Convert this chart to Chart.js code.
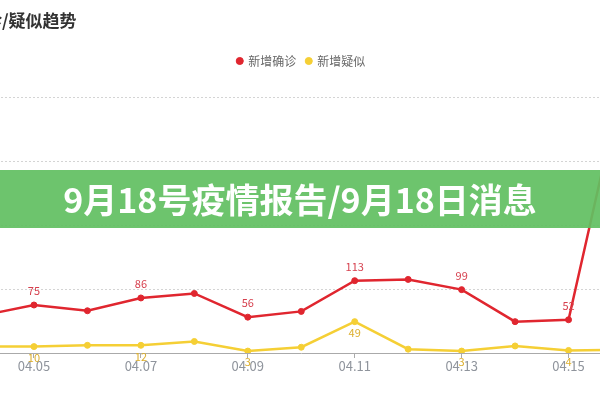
<!DOCTYPE html>
<html>
<head>
<meta charset="utf-8">
<script src="https://cdn.jsdelivr.net/npm/chart.js@4"></script>
<style>
	body { margin: 0; width: 600px; height: 400px; overflow: hidden; position: relative; background: #fff; }
	#wrap { position: absolute; left: -80px; top: 0; width: 712px; height: 400px; }
	#banner {
		position: absolute; left: 0; top: 170px; width: 600px; height: 58px;
		background: rgba(98, 192, 98, 0.93);
		color: #fff; font: bold 34px "Noto Sans CJK SC", sans-serif;
		text-align: center; line-height: 58px;
	}
</style>
</head>
<body>
<div id="wrap"><canvas id="lineChart"></canvas></div>
<div id="banner">9月18号疫情报告/9月18日消息</div>
<script>
const dates = ['04.04', '04.05', '04.06', '04.07', '04.08', '04.09', '04.10', '04.11', '04.12', '04.13', '04.14', '04.15', '04.16'];
const confirmed = [58, 75, 66, 86, 93, 56, 65, 113, 115, 99, 49, 52, 422];
const suspected = [10, 10, 12, 12, 18, 3, 9, 49, 6, 3, 11, 4, 5];
const yTicks = [0, 100, 200, 300, 400];

const font = '"Noto Sans CJK SC", "Noto Sans", sans-serif';
const red = '#e0262f';
const yellow = '#f5cf35';

// value labels on every other point, red above and yellow below
const valueLabels = {
	id: 'valueLabels',
	afterDatasetsDraw(chart) {
		const { ctx } = chart;
		ctx.save();
		ctx.font = '11px ' + font;
		ctx.textAlign = 'center';
		ctx.textBaseline = 'middle';
		chart.data.datasets.forEach((ds, d) => {
			const meta = chart.getDatasetMeta(d);
			meta.data.forEach((pt, i) => {
				if (i % 2 !== 1) return;
				ctx.fillStyle = d === 0 ? '#d6404e' : '#dcae2c';
				ctx.fillText(ds.data[i], pt.x, d === 0 ? pt.y - 14 : pt.y + 11);
			});
		});
		ctx.restore();
	},
};

// extra room between legend and plot
const legendGap = {
	id: 'legendGap',
	afterInit(chart) {
		const fit = chart.legend.fit;
		chart.legend.fit = function () {
			fit.call(this);
			this.height += 20;
		};
	},
};

const myChart = new Chart(document.querySelector('#lineChart'), {
	type: 'line',
	data: {
		labels: dates,
		datasets: [
			{
				label: '新增确诊',
				data: confirmed,
				borderColor: red,
				backgroundColor: red,
				borderWidth: 2.5,
				pointRadius: 3,
				pointBorderWidth: 1,
				tension: 0,
			},
			{
				label: '新增疑似',
				data: suspected,
				borderColor: yellow,
				backgroundColor: yellow,
				borderWidth: 2.5,
				pointRadius: 3,
				pointBorderWidth: 1,
				tension: 0,
			},
		],
	},
	options: {
		responsive: true,
		maintainAspectRatio: false,
		animation: false,
		layout: { padding: { left: 14, right: 10, top: 0, bottom: 26.4 } },
		plugins: {
			title: {
				display: true,
				text: '新增确诊/疑似趋势',
				align: 'start',
				color: '#333',
				font: { size: 17, weight: 'bold', family: font },
				padding: { top: 10, bottom: 14.6 },
			},
			legend: {
				position: 'top',
				fullSize: false,
				labels: {
					usePointStyle: true,
					pointStyle: 'circle',
					boxWidth: 5,
					boxHeight: 5,
					padding: 10,
					color: '#666',
					font: { size: 12, family: font },
				},
			},
			tooltip: { enabled: false },
		},
		scales: {
			x: {
				border: { display: true, color: '#aaa', width: 1 },
				grid: {
					drawOnChartArea: false,
					drawTicks: true,
					tickLength: 5,
					tickColor: c => (c.index % 2 === 1 ? '#aaa' : 'transparent'),
				},
				ticks: {
					autoSkip: false,
					maxRotation: 0,
					padding: 0,
					color: '#8f949c',
					font: { size: 13, family: font },
					callback: (v, i) => (i % 2 === 1 ? dates[i] : ''),
				},
			},
			y: {
				min: yTicks[0],
				max: yTicks[yTicks.length - 1],
				afterFit: s => { s.width = 46.5; },
				afterBuildTicks: s => { s.ticks = yTicks.map(v => ({ value: v })); },
				border: { display: false, dash: [2, 2] },
				grid: { color: c => (c.tick && c.tick.value === 0 ? 'transparent' : '#d4d4d4'), drawTicks: false },
				ticks: { display: false },
			},
		},
	},
	plugins: [valueLabels, legendGap],
});
</script>
</body>
</html>
